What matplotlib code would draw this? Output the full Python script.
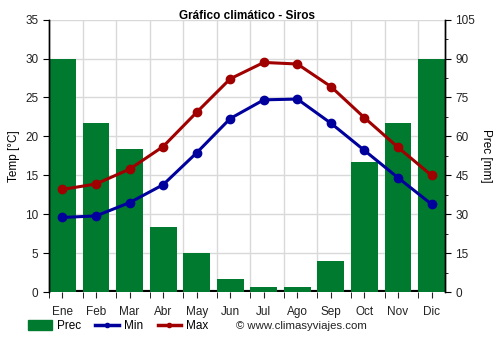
import matplotlib.pyplot as plt
from matplotlib.patches import Patch
from matplotlib.lines import Line2D
import numpy as np

# Monthly climate data for Siros
months = ['Ene', 'Feb', 'Mar', 'Abr', 'May', 'Jun', 'Jul', 'Ago', 'Sep', 'Oct', 'Nov', 'Dic']
prec = [90, 65, 55, 25, 15, 5, 2, 2, 12, 50, 65, 90]
t_min = [9.6, 9.8, 11.5, 13.8, 17.9, 22.3, 24.7, 24.8, 21.7, 18.2, 14.7, 11.3]
t_max = [13.2, 13.9, 15.8, 18.7, 23.1, 27.4, 29.5, 29.3, 26.4, 22.4, 18.6, 15.0]

plt.rcParams['font.family'] = ['Liberation Sans', 'DejaVu Sans']

green = '#007a2e'
red = '#a00000'
blue = '#00009c'

fig = plt.figure(figsize=(5, 3.5), dpi=100)
ax = fig.add_axes([0.098, 0.165, 0.792, 0.779])
ax2 = ax.twinx()

x = np.arange(len(months))

# precipitation bars on the right axis
ax2.bar(x, prec, width=0.8, align='edge', color=green, zorder=2)
ax2.axhline(0, color='black', lw=3, zorder=1)
ax2.set_ylim(0, 105)
ax2.set_yticks(np.arange(0, 106, 15))
ax2.set_yticks(np.arange(0, 106, 7.5), minor=True)
ax2.set_ylabel('Prec [mm]', fontsize=8.5, rotation=270, labelpad=12)

# temperature lines on the left axis, drawn above the bars
ax.set_zorder(ax2.get_zorder() + 1)
ax.patch.set_visible(False)
ax.plot(x + 0.4, t_min, color=blue, lw=2.2, marker='o', ms=6, zorder=3)
ax.plot(x + 0.4, t_max, color=red, lw=2.2, marker='o', ms=6, zorder=3)
ax.set_ylim(0, 35)
ax.set_yticks(np.arange(0, 36, 5))
ax.set_ylabel('Temp [°C]', fontsize=8.5, labelpad=4)
ax.set_xlim(0, 11.8)

# month labels centred on bars, ticks at the month boundaries
ax.set_xticks(x + 0.4)
ax.set_xticklabels(months)
ax.set_xticks(np.arange(0, 12), minor=True)
ax.tick_params(axis='x', which='major', length=0, pad=6)
ax.tick_params(axis='x', which='minor', length=4, color='black')

# grid drawn on the back axes
ax2.set_axisbelow(True)
for yv in np.arange(0, 106, 15):
    ax2.axhline(yv, color='#d9d9d9', lw=1, zorder=0)
for xv in range(1, 12):
    ax2.axvline(xv, color='#d9d9d9', lw=1, zorder=0)

for a in (ax, ax2):
    a.spines['top'].set_visible(False)
    a.spines['bottom'].set_visible(False)
    a.spines['left'].set_linewidth(1)
    a.spines['right'].set_linewidth(1)
    a.tick_params(labelsize=8.5, colors='#222222', length=4)
    a.tick_params(axis='y', colors='black', labelcolor='#222222')

ax.text(0.5, 1.012, 'Gráfico climático - Siros', transform=ax.transAxes,
        fontsize=8.5, fontweight='bold', ha='center', va='center')

handles = [
    Patch(color=green, label='Prec'),
    Line2D([], [], color=blue, lw=2.5, marker='o', ms=3, label='Min'),
    Line2D([], [], color=red, lw=2.5, marker='o', ms=3, label='Max'),
]
fig.legend(handles=handles, loc='center left', bbox_to_anchor=(0.035, 0.068),
           ncol=3, frameon=False, fontsize=8.5, handlelength=2.0,
           handleheight=0.9, handletextpad=0.45, columnspacing=1.2)
fig.text(0.472, 0.068, '© www.climasyviajes.com', fontsize=8.2, va='center',
         color='#222222')

fig.savefig('out.png', dpi=100)
